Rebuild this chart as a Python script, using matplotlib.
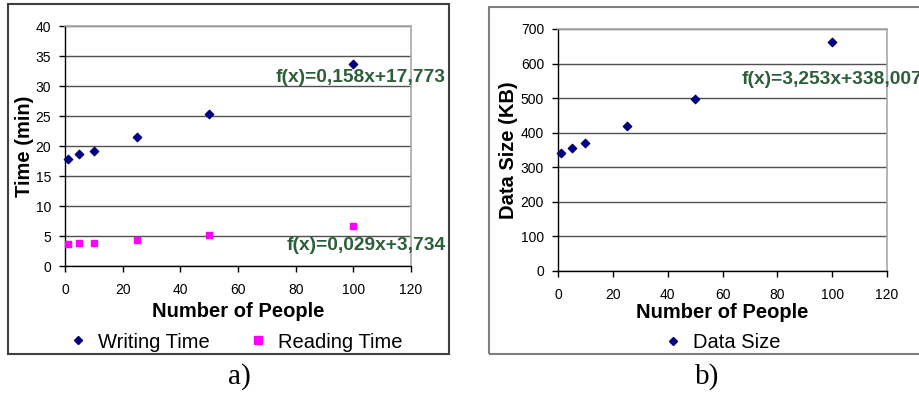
import matplotlib
matplotlib.use("Agg")
import matplotlib.pyplot as plt
from matplotlib.patches import Rectangle
from matplotlib.lines import Line2D

# ---- data ----
people = [1, 5, 10, 25, 50, 100]
writing_time = [17.8, 18.7, 19.1, 21.5, 25.4, 33.7]
reading_time = [3.7, 3.8, 3.8, 4.4, 5.2, 6.6]
data_size = [342, 355, 369, 419, 498, 663]

x_ticks = [0, 20, 40, 60, 80, 100, 120]
time_ticks = [0, 5, 10, 15, 20, 25, 30, 35, 40]
size_ticks = [0, 100, 200, 300, 400, 500, 600, 700]

eq_write = "f(x)=0,158x+17,773"
eq_read = "f(x)=0,029x+3,734"
eq_size = "f(x)=3,253x+338,007"

W, H = 919, 394
fig = plt.figure(figsize=(W / 100, H / 100), dpi=100)
plt.rcParams['font.family'] = ['Liberation Sans', 'DejaVu Sans']

def fx(px):
    return px / W

def fy(py):
    return 1 - py / H

def add_axes_px(x0, x1, ytop, ybot):
    return fig.add_axes([fx(x0), fy(ybot), (x1 - x0) / W, (ybot - ytop) / H])

# outer boxes
fig.add_artist(Rectangle((fx(8), fy(354)), (449 - 8) / W, (354 - 4) / H,
                         transform=fig.transFigure, fill=False,
                         edgecolor='#404040', lw=1.5))
fig.add_artist(Rectangle((fx(489), fy(354)), (940 - 489) / W, (354 - 7) / H,
                         transform=fig.transFigure, fill=False,
                         edgecolor='#808080', lw=1.5))

GREEN = '#2d5e3a'
NAVY = '#000080'
MAG = '#ff00ff'

def style(ax, yticks, xlabel, ylabel, ylim, xlabelpad, ylabel_x):
    ax.set_xlim(0, 120)
    ax.set_ylim(*ylim)
    ax.set_xticks(x_ticks)
    ax.set_yticks(yticks)
    ax.tick_params(axis='both', direction='out', length=4, labelsize=10,
                   width=1, colors='black')
    ax.tick_params(axis='x', pad=8)
    ax.tick_params(axis='y', pad=6)
    ax.yaxis.grid(True, color='#505050', lw=1)
    ax.set_axisbelow(True)
    for s in ['top', 'right']:
        ax.spines[s].set_color('#a8a8a8')
        ax.spines[s].set_linewidth(1.2)
    for s in ['left', 'bottom']:
        ax.spines[s].set_color('black')
        ax.spines[s].set_linewidth(1)
    ax.set_xlabel(xlabel, fontsize=14.5, fontweight='bold', labelpad=xlabelpad)
    ax.set_ylabel(ylabel, fontsize=14.5, fontweight='bold')
    ax.yaxis.set_label_coords(ylabel_x, 0.5)
    ax.yaxis.label.set_va('center')

# ---- left panel ----
ax1 = add_axes_px(65, 411, 26, 266)
ax1.scatter(people, writing_time, marker='D', s=18, color=NAVY, zorder=3, clip_on=False)
ax1.scatter(people, reading_time, marker='s', s=24, color=MAG, zorder=3, clip_on=False)
style(ax1, time_ticks, "Number of People", "Time (min)", (0, 40), 4, (25 - 65) / 346)
ax1.text(446 / W, fy(78), eq_write, transform=fig.transFigure, ha='right', va='center',
         fontsize=13.8, fontweight='bold', color=GREEN)
ax1.text(446 / W, fy(246), eq_read, transform=fig.transFigure, ha='right', va='center',
         fontsize=13.8, fontweight='bold', color=GREEN)

h1 = [Line2D([], [], marker='D', ls='none', color=NAVY, markersize=4.5),
      Line2D([], [], marker='s', ls='none', color=MAG, markersize=5.5)]
fig.legend(h1, ["Writing Time", "Reading Time"], loc='center',
           bbox_to_anchor=(fx(236), fy(342)), ncol=2, frameon=False,
           fontsize=14.5, handlelength=0.8, handletextpad=0.6, columnspacing=2.0,
           borderaxespad=0)

# ---- right panel ----
ax2 = add_axes_px(558, 887, 29, 271)
ax2.scatter(people, data_size, marker='D', s=18, color=NAVY, zorder=3, clip_on=False)
style(ax2, size_ticks, "Number of People", "Data Size (KB)", (0, 700), 1, (508 - 558) / 329)
ax2.text(fx(742), fy(80), eq_size, transform=fig.transFigure, ha='left', va='center',
         fontsize=13.8, fontweight='bold', color=GREEN)

h2 = [Line2D([], [], marker='D', ls='none', color=NAVY, markersize=4.5)]
fig.legend(h2, ["Data Size"], loc='center',
           bbox_to_anchor=(fx(723), fy(343)), ncol=1, frameon=False,
           fontsize=14.5, handlelength=0.8, handletextpad=0.6, borderaxespad=0)

# panel captions
fig.text(fx(239), fy(377), "a)", ha='center', va='center', fontsize=21,
         family=['Liberation Serif', 'DejaVu Serif'])
fig.text(fx(707), fy(377), "b)", ha='center', va='center', fontsize=21,
         family=['Liberation Serif', 'DejaVu Serif'])

fig.savefig("out.png", dpi=100)
